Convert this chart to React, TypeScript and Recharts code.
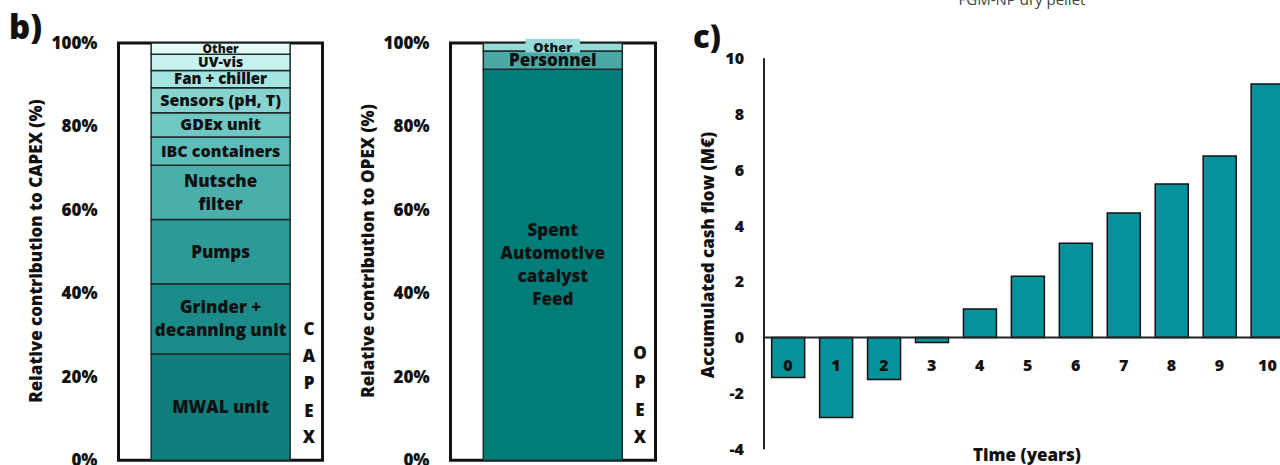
import React from 'react';
import { BarChart, Bar, XAxis, YAxis, ReferenceArea, ReferenceLine, LabelList } from 'recharts';

const FONT = '"Open Sans", "Noto Sans", "DejaVu Sans", sans-serif';
const BOLD = 800;

// ---------- Data ----------
const capexComponents = [
  'MWAL unit',
  'Grinder + decanning unit',
  'Pumps',
  'Nutsche filter',
  'IBC containers',
  'GDEx unit',
  'Sensors (pH, T)',
  'Fan + chiller',
  'UV-vis',
  'Other',
];
const capexShares = [25.5, 16.8, 15.4, 13.0, 6.8, 5.8, 6.0, 4.1, 3.9, 2.7];
const capexLabelLines = [
  ['MWAL unit'],
  ['Grinder +', 'decanning unit'],
  ['Pumps'],
  ['Nutsche', 'filter'],
  ['IBC containers'],
  ['GDEx unit'],
  ['Sensors (pH, T)'],
  ['Fan + chiller'],
  ['UV-vis'],
  ['Other'],
];

const opexComponents = ['Spent Automotive catalyst Feed', 'Personnel', 'Other'];
const opexShares = [93.7, 4.4, 1.9];
const opexLabelLines = [['Spent', 'Automotive', 'catalyst', 'Feed'], ['Personnel'], ['Other']];

const percentTicks = [0, 20, 40, 60, 80, 100];

const years = ['0', '1', '2', '3', '4', '5', '6', '7', '8', '9', '10'];
const cashFlow = [-1.43, -2.86, -1.5, -0.18, 1.02, 2.2, 3.38, 4.46, 5.5, 6.5, 9.08];
const cashTicks = [-4, -2, 0, 2, 4, 6, 8, 10];

// ---------- Styles ----------
const capexColors = ['#0f7e7c', '#1b8b89', '#2c9b98', '#4aaeaa', '#5cbcb8', '#6dc7c3', '#86d3cf', '#a6e4e1', '#c6f2f0', '#e4faf9'];
const capexFontSizes = [17, 17, 17, 17, 16, 16, 16, 15, 14, 12];
const opexColors = ['#007c79', '#4aa9a6', '#96d9d6'];
const opexFontSizes = [17, 17, 13];
const cashColor = '#05929a';

const capexRow: Record<string, any> = { name: 'CAPEX' };
capexComponents.forEach((_, i) => (capexRow['s' + i] = capexShares[i]));
const capexData = [capexRow];

const opexRow: Record<string, any> = { name: 'OPEX' };
opexComponents.forEach((_, i) => (opexRow['s' + i] = opexShares[i]));
const opexData = [opexRow];

const cashData = years.map((y, i) => ({ year: y, cash: cashFlow[i] }));

const makeSegLabel = (lines: string[], fontSize: number, bg?: string) => (props: any) => {
  const vb = props.viewBox && props.viewBox.width !== undefined ? props.viewBox : props;
  const x = Number(vb.x);
  const y = Number(vb.y);
  const w = Number(vb.width);
  const h = Number(vb.height);
  const cx = x + w / 2;
  const cy = y + h / 2;
  const lh = fontSize * 1.36;
  const y0 = cy - ((lines.length - 1) * lh) / 2;
  return (
    <g>
      {bg ? (
        <rect x={cx - fontSize * 2.1} y={cy - fontSize * 0.62} width={fontSize * 4.2} height={fontSize * 1.05} fill={bg} />
      ) : null}
      {lines.map((l, i) => (
        <text
          key={i}
          x={cx}
          y={y0 + i * lh}
          dy="0.35em"
          textAnchor="middle"
          fontFamily={FONT}
          fontWeight={BOLD}
          fontSize={fontSize}
          fill="#111"
        >
          {l}
        </text>
      ))}
    </g>
  );
};

const PLOT_TOP = 43;
const PLOT_BOTTOM_SPACE = 4.7;

const percentTick = { fontFamily: FONT, fontWeight: BOLD, fontSize: 17, fill: '#111' };

function StackChart(props: {
  data: any[];
  names: string[];
  colors: string[];
  lines: string[][];
  fontSizes: number[];
  width: number;
  left: number;
  right: number;
  bgLast?: boolean;
}) {
  const { data, names, colors, lines, fontSizes, width, left, right, bgLast } = props;
  return (
    <BarChart
      width={width}
      height={465}
      data={data}
      margin={{ top: PLOT_TOP, right, bottom: PLOT_BOTTOM_SPACE, left }}
      barCategoryGap="16%"
    >
      <XAxis dataKey="name" hide />
      <YAxis
        width={80}
        domain={[0, 100]}
        ticks={percentTicks}
        interval={0}
        tickFormatter={(v: number) => `${v}%`}
        axisLine={false}
        tickLine={false}
        tickSize={0}
        tickMargin={21}
        tick={percentTick}
      />
      {names.map((n, i) => (
        <Bar
          key={n}
          name={n}
          dataKey={'s' + i}
          stackId="a"
          fill={colors[i]}
          stroke="#1c2a2a"
          strokeWidth={1.5}
          isAnimationActive={false}
        >
          <LabelList
            dataKey={'s' + i}
            content={makeSegLabel(lines[i], fontSizes[i], bgLast && i === names.length - 1 ? colors[i] : undefined)}
          />
        </Bar>
      ))}
      <ReferenceArea y1={0} y2={100} fill="none" fillOpacity={0} stroke="#111" strokeWidth={3} ifOverflow="extendDomain" />
    </BarChart>
  );
}

const CASH_H = 465;
const CASH_TOP = 58.3;
const CASH_XAXIS_H = 10;
const CASH_BOTTOM = 5.7;
const CASH_MIN = -4;
const CASH_MAX = 10;
const cashPlotH = CASH_H - CASH_TOP - CASH_XAXIS_H - CASH_BOTTOM;

const YearTick = (props: any) => {
  const { x, y, payload } = props;
  const zeroY = y - (cashPlotH * (0 - CASH_MIN)) / (CASH_MAX - CASH_MIN);
  return (
    <text x={x} y={zeroY + 27.7} dy="0.35em" textAnchor="middle" fontFamily={FONT} fontWeight={BOLD} fontSize={16} fill="#111">
      {payload.value}
    </text>
  );
};

function CashChart() {
  return (
    <BarChart
      width={640}
      height={CASH_H}
      data={cashData}
      margin={{ top: CASH_TOP, right: 28.6, bottom: CASH_BOTTOM, left: 24 }}
      barCategoryGap="16%"
    >
      <YAxis
        width={60}
        domain={[CASH_MIN, CASH_MAX]}
        ticks={cashTicks}
        interval={0}
        axisLine={{ stroke: '#222', strokeWidth: 2 }}
        tickLine={false}
        tickSize={0}
        tickMargin={20}
        tick={{ fontFamily: FONT, fontWeight: BOLD, fontSize: 16, fill: '#111' }}
      />
      <Bar dataKey="cash" fill={cashColor} stroke="#111" strokeWidth={1.5} isAnimationActive={false} />
      <ReferenceLine y={0} stroke="#222" strokeWidth={2} />
      <XAxis
        dataKey="year"
        height={CASH_XAXIS_H}
        interval={0}
        axisLine={false}
        tickLine={false}
        tickSize={0}
        tickMargin={0}
        tick={<YearTick />}
      />
    </BarChart>
  );
}

const titleStyle = { fontFamily: FONT, fontWeight: BOLD, fill: '#111' } as const;

export default function App() {
  const letters = (chars: string[], x: number, ys: number[]) =>
    chars.map((c, i) => (
      <text key={c + i} x={x} y={ys[i]} dy="0.35em" textAnchor="middle" fontSize={17} {...titleStyle}>
        {c}
      </text>
    ));
  return (
    <div style={{ position: 'absolute', left: 0, top: 0, width: 1280, height: 465, overflow: 'hidden', background: '#fff' }}>
      <div style={{ position: 'absolute', left: 0, top: 0 }}>
        <StackChart
          data={capexData}
          names={capexComponents}
          colors={capexColors}
          lines={capexLabelLines}
          fontSizes={capexFontSizes}
          width={340}
          left={38.5}
          right={17.5}
        />
      </div>
      <div style={{ position: 'absolute', left: 340, top: 0 }}>
        <StackChart
          data={opexData}
          names={opexComponents}
          colors={opexColors}
          lines={opexLabelLines}
          fontSizes={opexFontSizes}
          width={330}
          left={30.5}
          right={14.5}
          bgLast
        />
      </div>
      <div style={{ position: 'absolute', left: 680, top: 0 }}>
        <CashChart />
      </div>
      <svg width={1280} height={465} style={{ position: 'absolute', left: 0, top: 0, pointerEvents: 'none' }}>
        <text x={9} y={39} fontSize={33} {...titleStyle}>b)</text>
        <text x={693} y={48} fontSize={31} {...titleStyle}>c)</text>
        <text x={1022} y={5} textAnchor="middle" fontFamily={FONT} fontSize={15} fill="#404040">FGM-NP dry pellet</text>
        <text x={36} y={251} dy="0.35em" textAnchor="middle" fontSize={17} transform="rotate(-90 36 251)" {...titleStyle}>
          Relative contribution to CAPEX (%)
        </text>
        <text x={368} y={251} dy="0.35em" textAnchor="middle" fontSize={17} transform="rotate(-90 368 251)" {...titleStyle}>
          Relative contribution to OPEX (%)
        </text>
        <text x={708} y={255} dy="0.35em" textAnchor="middle" fontSize={17} transform="rotate(-90 708 255)" {...titleStyle}>
          Accumulated cash flow  (M€)
        </text>
        <text x={1027} y={455} dy="0.35em" textAnchor="middle" fontSize={17} {...titleStyle}>Time (years)</text>
        {letters(['C', 'A', 'P', 'E', 'X'], 309, [329, 356, 383, 411, 437])}
        {letters(['O', 'P', 'E', 'X'], 640, [353, 382, 410, 437])}
      </svg>
    </div>
  );
}
